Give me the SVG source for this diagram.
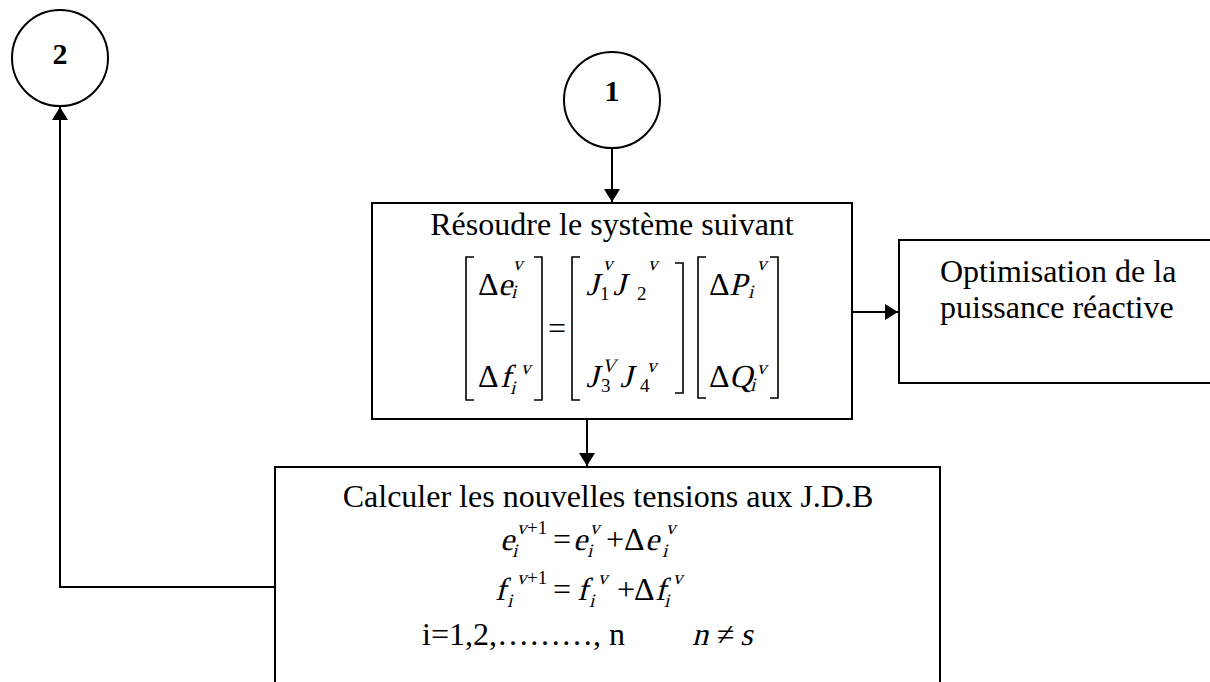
<svg xmlns="http://www.w3.org/2000/svg" width="1210" height="682" viewBox="0 0 1210 682">
<style>
.box{fill:#fff;stroke:#000;stroke-width:2}
.ln{fill:none;stroke:#000;stroke-width:2}
.br{fill:none;stroke:#000;stroke-width:1.6}
.t{font-family:"Liberation Serif","Times New Roman",serif;font-size:32px;fill:#000}
.m{font-family:"Liberation Serif","Times New Roman",serif;font-size:32px;fill:#000}
.s{font-family:"Liberation Serif","Times New Roman",serif;font-size:19px;fill:#000}
.b{font-family:"Liberation Serif","Times New Roman",serif;font-size:30px;font-weight:bold;fill:#000}
</style>
<defs>
<marker id="ah" markerWidth="13" markerHeight="16" refX="13" refY="8" orient="auto" markerUnits="userSpaceOnUse">
<path d="M0,0 L13,8 L0,16 Z" fill="#000"/>
</marker>
</defs>
<g id="connectors">
<line class="ln" x1="612" y1="148" x2="612" y2="202" marker-end="url(#ah)"/>
<line class="ln" x1="587" y1="419" x2="587" y2="466" marker-end="url(#ah)"/>
<line class="ln" x1="852" y1="312" x2="898" y2="312" marker-end="url(#ah)"/>
<polyline class="ln" points="275,587 60,587 60,107" marker-end="url(#ah)"/>
</g>
<g id="node-2">
<circle cx="60" cy="58" r="48" fill="#fff" stroke="#000" stroke-width="2"/>
<text class="b" x="60" y="64" text-anchor="middle">2</text>
</g>
<g id="node-1">
<circle cx="612" cy="100" r="48" fill="#fff" stroke="#000" stroke-width="2"/>
<text class="b" x="612" y="101" text-anchor="middle">1</text>
</g>
<g id="node-resoudre">
<rect class="box" x="372" y="203" width="480" height="216"/>
<text class="t" x="612" y="235" text-anchor="middle">Résoudre le système suivant</text>
<path class="br" d="M474,257 H466 V400 H474"/>
<path class="br" d="M534,257 H542 V400 H534"/>
<path class="br" d="M580,257 H572 V400 H580"/>
<path class="br" d="M675,263 H683 V393 H675"/>
<path class="br" d="M706,257 H698 V398 H706"/>
<path class="br" d="M770,257 H778 V398 H770"/>
<text class="m" x="478" y="295">Δ</text>
<text class="m" transform="translate(498 295) skewX(-14)">e</text>
<text class="s" transform="translate(513 270) skewX(-14)">v</text>
<text class="s" transform="translate(511 298) skewX(-14)">i</text>
<text class="m" x="478" y="387">Δ</text>
<text class="m" transform="translate(500 387) skewX(-14)">f</text>
<text class="s" transform="translate(521 374) skewX(-14)">v</text>
<text class="s" transform="translate(510 394) skewX(-14)">i</text>
<text class="m" x="557" y="339" text-anchor="middle">=</text>
<text class="m" transform="translate(586 295) skewX(-14)">J</text>
<text class="s" x="600" y="300">1</text>
<text class="s" transform="translate(603 270) skewX(-14)">v</text>
<text class="m" transform="translate(613 295) skewX(-14)">J</text>
<text class="s" x="637" y="300">2</text>
<text class="s" transform="translate(648 270) skewX(-14)">v</text>
<text class="m" transform="translate(586 387) skewX(-14)">J</text>
<text class="s" x="601" y="392">3</text>
<text class="s" transform="translate(602 372) skewX(-14)">V</text>
<text class="m" transform="translate(620 387) skewX(-14)">J</text>
<text class="s" x="640" y="392">4</text>
<text class="s" transform="translate(647 372) skewX(-14)">v</text>
<text class="m" x="709" y="295">Δ</text>
<text class="m" transform="translate(729 295) skewX(-14)">P</text>
<text class="s" transform="translate(757 270) skewX(-14)">v</text>
<text class="s" transform="translate(748 298) skewX(-14)">i</text>
<text class="m" x="709" y="387">Δ</text>
<text class="m" transform="translate(729 387) skewX(-14)">Q</text>
<text class="s" transform="translate(757 374) skewX(-14)">v</text>
<text class="s" transform="translate(750 391) skewX(-14)">i</text>
</g>
<g id="node-optimisation">
<rect class="box" x="899" y="240" width="330" height="143"/>
<text class="t" x="940" y="282">Optimisation de la</text>
<text class="t" x="940" y="318">puissance réactive</text>
</g>
<g id="node-calculer">
<rect class="box" x="275" y="467" width="665" height="240"/>
<text class="t" x="608" y="507" text-anchor="middle">Calculer les nouvelles tensions aux J.D.B</text>
<text class="m" transform="translate(500 550) skewX(-14)">e</text>
<text class="s" transform="translate(517 534) skewX(-14)">v</text><text class="s" x="527" y="534">+1</text>
<text class="s" transform="translate(512 557) skewX(-14)">i</text>
<text class="m" x="553" y="550">=</text>
<text class="m" transform="translate(573 550) skewX(-14)">e</text>
<text class="s" transform="translate(590 534) skewX(-14)">v</text>
<text class="s" transform="translate(587 557) skewX(-14)">i</text>
<text class="m" x="606" y="550">+</text>
<text class="m" x="624" y="550">Δ</text>
<text class="m" transform="translate(645 550) skewX(-14)">e</text>
<text class="s" transform="translate(666 534) skewX(-14)">v</text>
<text class="s" transform="translate(662 557) skewX(-14)">i</text>
<text class="m" transform="translate(495 600) skewX(-14)">f</text>
<text class="s" transform="translate(517 584) skewX(-14)">v</text><text class="s" x="527" y="584">+1</text>
<text class="s" transform="translate(507 607) skewX(-14)">i</text>
<text class="m" x="553" y="600">=</text>
<text class="m" transform="translate(577 600) skewX(-14)">f</text>
<text class="s" transform="translate(598 584) skewX(-14)">v</text>
<text class="s" transform="translate(589 607) skewX(-14)">i</text>
<text class="m" x="617" y="600">+</text>
<text class="m" x="634" y="600">Δ</text>
<text class="m" transform="translate(655 600) skewX(-14)">f</text>
<text class="s" transform="translate(673 584) skewX(-14)">v</text>
<text class="s" transform="translate(664 607) skewX(-14)">i</text>
<text class="t" x="422" y="645">i=1,2,………, n</text>
<text class="m" transform="translate(692 645) skewX(-14)">n</text>
<text class="m" x="717" y="645">≠</text>
<text class="m" transform="translate(740 645) skewX(-14)">s</text>
</g>
</svg>
